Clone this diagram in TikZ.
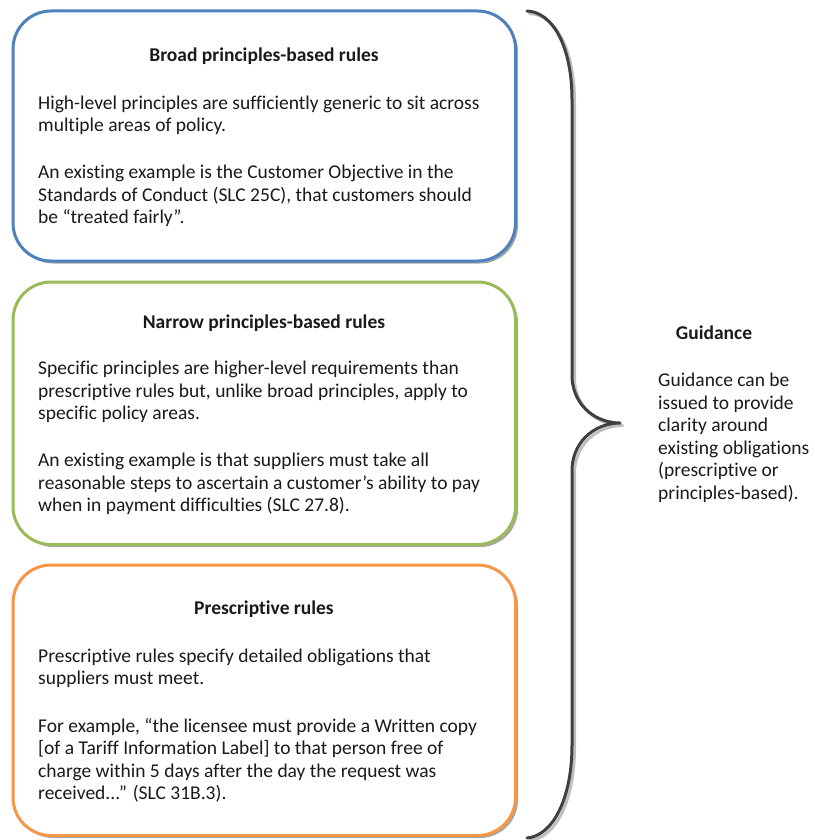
\documentclass[tikz,border=0pt]{standalone}
\usepackage{fontspec}
\setmainfont{Carlito}[Ligatures=NoCommon]
\usetikzlibrary{shadows}
\definecolor{boxblue}{HTML}{4F81BD}
\definecolor{boxgreen}{HTML}{9BBB59}
\definecolor{boxorange}{HTML}{F79646}
\definecolor{bracegray}{HTML}{404040}
\definecolor{inktext}{HTML}{1A1A1A}
\begin{document}
\begin{tikzpicture}[x=1pt,y=-1pt,
  rulebox/.style={draw, line width=3pt, rounded corners=38pt, fill=white,
    inner sep=0pt, minimum width=502.5pt,
    drop shadow={shadow xshift=2.5pt, shadow yshift=-2.5pt, opacity=0.35, fill=black}},
  boxtitle/.style={anchor=base, inner sep=0pt, text=inktext,
    font=\fontsize{19.5}{22.4}\selectfont\bfseries},
  % multi-line nodes: the base anchor sits on the last line
  bodytext/.style={anchor=base west, align=left, inner sep=0pt, text=inktext,
    font=\fontsize{19.5}{22.4}\selectfont},
  sidetext/.style={anchor=base west, align=left, inner sep=0pt, text=inktext,
    font=\fontsize{19.5}{22.6}\selectfont},
  bracestroke/.style={line width=3pt, line cap=round, line join=round}]
\useasboundingbox (0,0) rectangle (814,840);

% --- the three rule boxes ---
\node[rulebox, draw=boxblue, minimum height=250pt] (broad) at (264.25,136) {};
\node[rulebox, draw=boxgreen, minimum height=262.5pt] (narrow) at (264.25,413.25) {};
\node[rulebox, draw=boxorange, minimum height=270.5pt] (prescr) at (264.25,700.25) {};

% Broad principles-based rules
\node[boxtitle] (broadT) at (264,61.5) {Broad principles-based rules};
\node[bodytext] (broadA) at (38,131.5) {High-level principles are sufficiently generic to sit across\\multiple areas of policy.};
\node[bodytext] (broadB) at (38,223.5) {An existing example is the Customer Objective in the\\Standards of Conduct (SLC 25C), that customers should\\be “treated fairly”.};

% Narrow principles-based rules
\node[boxtitle] (narrowT) at (264,328.5) {Narrow principles-based rules};
\node[bodytext] (narrowA) at (38,419.5) {Specific principles are higher-level requirements than\\prescriptive rules but, unlike broad principles, apply to\\specific policy areas.};
\node[bodytext] (narrowB) at (38,511.5) {An existing example is that suppliers must take all\\reasonable steps to ascertain a customer’s ability to pay\\when in payment difficulties (SLC 27.8).};

% Prescriptive rules
\node[boxtitle] (prescrT) at (264,614.5) {Prescriptive rules};
\node[bodytext] (prescrA) at (38,684.5) {Prescriptive rules specify detailed obligations that\\suppliers must meet.};
\node[bodytext] (prescrB) at (38,799.5) {For example, “the licensee must provide a Written copy\\{}[of a Tariff Information Label] to that person free of\\charge within 5 days after the day the request was\\received...” (SLC 31B.3).};

% --- the curly brace, with its shadow ---
\def\bracepath{(527,11) .. controls (552,12) and (572,45) .. (572,100)
  -- (572,378) .. controls (574,408) and (598,423) .. (620,423)
  .. controls (598,423) and (574,438) .. (572,468)
  -- (572,745) .. controls (572,800) and (552,836) .. (527,838)}
\begin{scope}[shift={(2.5,2.5)}]
  \draw[bracestroke, black, opacity=0.25] \bracepath;
\end{scope}
\draw[bracestroke, bracegray] \bracepath;

% --- guidance ---
\node[boxtitle] (guideT) at (714,339.5) {Guidance};
\node[sidetext] (guideA) at (658,499.5) {Guidance can be\\issued to provide\\clarity around\\existing obligations\\(prescriptive or\\principles-based).};
\end{tikzpicture}
\end{document}
